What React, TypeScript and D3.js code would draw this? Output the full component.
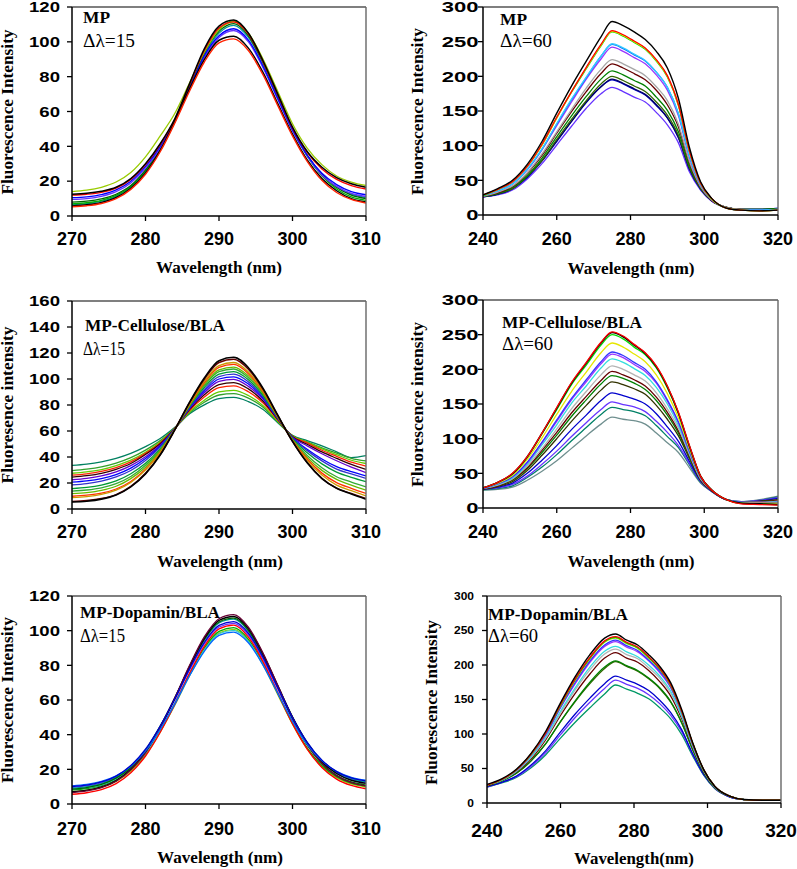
import React from 'react';
import * as d3 from 'd3';

// ---------- wavelength grids ----------
const WL15 = [270, 272, 274, 276, 278, 280, 282, 284, 286, 288, 290, 292, 294, 296, 298, 300, 302, 304, 306, 308, 310];
const WL60 = [240, 244, 248, 252, 256, 260, 264, 268, 272, 275, 278, 281, 284, 287, 290, 293, 296, 299, 302, 306, 310, 315, 320];

const TICKS_X15 = [270, 280, 290, 300, 310];
const TICKS_X60 = [240, 260, 280, 300, 320];
const TICKS_Y120 = [0, 20, 40, 60, 80, 100, 120];
const TICKS_Y160 = [0, 20, 40, 60, 80, 100, 120, 140, 160];
const TICKS_Y300 = [0, 50, 100, 150, 200, 250, 300];

// ---------- MP, Δλ=15 ----------
const mp15_black = [5.8, 6.4, 7.8, 10.6, 15.9, 24.7, 37.7, 54.5, 73, 89.8, 100.9, 103.2, 96.4, 82.3, 64.5, 47, 32.2, 21.5, 14.5, 10, 8];
const mp15_red = [5.3, 5.9, 7.2, 10, 15.3, 24, 36.9, 53.5, 71.8, 88.4, 99.4, 101.7, 95, 81, 63.4, 46, 31.4, 20.5, 13.5, 9.5, 7.5];
const mp15_black2 = [12.5, 13, 14.2, 16.5, 21.5, 30, 41.5, 56, 76, 96, 109, 112.5, 105, 89, 70, 51, 37, 28, 22, 18.5, 16.5];
const mp15_red2 = [12, 12.5, 13.6, 16, 21, 29.5, 41, 55.5, 75.5, 95, 108, 111.5, 104.5, 88.5, 69.5, 50.5, 36.5, 27, 21, 17.5, 15.5];
const mp15_yg = [14, 14.8, 16.5, 19.5, 25, 34, 46, 59, 76.5, 94, 107, 111.5, 105, 90, 71.5, 53, 39, 29.5, 23, 19.5, 17.5];
const mp15_blue = [10.5, 11, 12.3, 15, 20, 28.5, 40, 55, 73.5, 92, 103.5, 107.5, 101, 86, 67.5, 49.5, 35, 24.5, 18, 14, 12.2];
const mp15_purple = [9.5, 10, 11.3, 14, 19, 27.5, 39, 54.5, 73, 91, 102.5, 106.5, 100, 85, 67, 49, 34.5, 23.5, 17, 13, 11.2];
const mp15_dkgreen = [8, 8.5, 9.8, 12.5, 17.5, 26.5, 38.5, 55, 74, 93.5, 106, 110.5, 103.5, 88, 69, 50, 35, 24, 16.5, 12, 10];
const mp15_green = [7, 7.6, 9, 11.8, 17, 26, 38, 54.5, 74, 94, 107, 112, 105, 89, 69.5, 50, 34.5, 23, 15.5, 11, 9];
const mp15_teal = [6.5, 7.1, 8.5, 11.3, 16.5, 25.5, 37.5, 54, 73.5, 92.5, 105, 109.5, 102.5, 87.5, 68.5, 49.5, 34.5, 23.5, 16.5, 12.5, 10.5];

// ---------- MP, Δλ=60 ----------
const mp60_black = [29, 38, 50, 73, 106, 147, 186, 222, 257, 279, 273, 264, 253, 236, 212, 168, 97, 48, 24, 10, 7, 6, 7];
const mp60_red = [29, 37, 48, 70, 102, 141, 178, 213, 246, 266, 260, 251, 241, 224, 201, 159, 92, 46, 24, 10, 7, 6, 7];
const mp60_yellow = [29, 37, 48, 70, 101, 140, 178, 212, 245, 265, 259, 250, 240, 223, 200, 159, 92, 46, 23, 10, 7, 6, 7];
const mp60_green = [28, 37, 48, 70, 101, 140, 177, 211, 244, 264, 258, 249, 239, 222, 199, 158, 92, 46, 23, 10, 7, 6, 7];
const mp60_cyan = [28, 35, 45, 66, 95, 132, 167, 199, 229, 247, 241, 232, 223, 206, 184, 146, 85, 44, 23, 10, 7, 7, 8];
const mp60_blue = [28, 35, 45, 66, 95, 131, 166, 198, 229, 246, 240, 231, 222, 206, 184, 146, 85, 44, 23, 10, 7, 7, 8];
const mp60_violet = [28, 35, 45, 65, 94, 129, 163, 196, 225, 242, 236, 227, 218, 202, 180, 143, 83, 43, 22, 10, 7, 7, 8];
const mp60_gray = [27, 33, 42, 61, 88, 120, 152, 183, 210, 224, 218, 210, 201, 185, 165, 131, 77, 41, 22, 11, 8, 7, 8];
const mp60_brown = [27, 32, 41, 60, 86, 118, 149, 178, 204, 218, 212, 204, 195, 180, 159, 127, 75, 40, 21, 11, 8, 7, 8];
const mp60_green2 = [27, 31, 40, 57, 82, 113, 143, 171, 196, 208, 202, 194, 186, 170, 151, 120, 71, 39, 21, 11, 8, 8, 9];
const mp60_olive = [27, 31, 38, 56, 79, 109, 138, 165, 189, 200, 194, 186, 178, 163, 144, 115, 68, 38, 21, 11, 8, 8, 9];
const mp60_navy = [26, 30, 38, 55, 78, 107, 135, 163, 185, 196, 190, 182, 174, 159, 140, 112, 66, 38, 21, 11, 8, 8, 9];
const mp60_blue2 = [26, 30, 38, 54, 78, 106, 135, 162, 185, 195, 189, 181, 173, 158, 140, 111, 66, 37, 21, 11, 8, 8, 10];
const mp60_purple = [26, 29, 36, 52, 74, 101, 128, 154, 175, 184, 178, 170, 163, 148, 130, 104, 62, 36, 20, 11, 8, 8, 9];

// ---------- MP-Cellulose/BLA, Δλ=15 ----------
const cb15_teal = [33.5, 34.5, 36.3, 39, 42.8, 48, 54.2, 62.8, 73.2, 80.1, 84.9, 85.8, 82.6, 76.5, 66.4, 56.6, 52.6, 48.6, 44, 39.5, 41];
const cb15_green = [29.5, 30.6, 32.4, 35.3, 39.5, 45.3, 52.6, 62.4, 74.1, 82.1, 87.7, 88.8, 85.3, 78.2, 67, 56.3, 51.7, 47, 43, 39, 37];
const cb15_yg = [27.5, 28.6, 30.3, 33.4, 37.6, 43.7, 51.6, 62.1, 74.8, 83.7, 90.1, 91.3, 87.3, 79.4, 67.5, 56.1, 51.3, 46.2, 41.8, 37.5, 35];
const cb15_red = [26, 27.1, 28.9, 31.9, 36.3, 42.8, 50.8, 62.1, 75.8, 86.1, 93.4, 94.7, 90.2, 81.5, 68.4, 55.8, 50.8, 45.2, 40.5, 36, 33];
const cb15_brown = [24.5, 25.6, 27.4, 30.5, 35, 41.9, 50.2, 61.9, 76.6, 87.8, 95.7, 97.2, 92.4, 82.9, 68.9, 55.6, 49.8, 43.9, 39, 34.3, 30.5];
const cb15_purple = [22.5, 23.6, 25.5, 28.6, 33.4, 40.2, 49.3, 61.6, 77.3, 89.4, 98.1, 99.7, 94.3, 84.3, 69.3, 55.2, 48.6, 42.5, 37.1, 32.2, 28];
const cb15_blue = [20.6, 21.6, 23.4, 26.5, 31.4, 38.8, 48.5, 61.8, 77.9, 90.8, 100, 101.7, 96.1, 85.3, 69.7, 54.8, 46, 38.5, 32.6, 28.7, 25.5];
const cb15_blue2 = [18.6, 19.6, 21.5, 24.7, 29.6, 37.3, 47.7, 61.6, 78.4, 92, 101.8, 103.7, 97.8, 86.3, 70, 54.5, 44.9, 37, 30.7, 27, 23.5];
const cb15_green2 = [15.7, 16.6, 18.4, 21.6, 27.1, 35.2, 46.2, 61.4, 79, 93.5, 103.7, 105.7, 99.5, 87.3, 70.2, 54.1, 43.2, 34.7, 28.4, 24.3, 21];
const cb15_green3 = [13.7, 14.6, 16.3, 19.5, 25, 33.7, 45.4, 61.5, 79.6, 94.8, 105.6, 107.7, 101, 88.5, 70.8, 53.5, 41.2, 31.8, 24.8, 20.7, 17];
const cb15_yg2 = [11.8, 12.6, 14.3, 17.5, 23.4, 32.1, 44.6, 61.2, 80, 95.8, 107, 109.2, 102.4, 88.9, 70.9, 53.2, 39.7, 29.7, 22.8, 18.4, 14.5];
const cb15_red2 = [9.8, 10.6, 12.2, 15.4, 21.2, 30.6, 43.6, 61.3, 80.6, 97.1, 108.9, 111.2, 104.1, 90.1, 71.1, 52.7, 38.5, 27.6, 20.3, 15.9, 12];
const cb15_orange = [8.8, 9.5, 11.2, 14.5, 20.4, 29.9, 43.1, 61.2, 81.1, 98.2, 110.3, 112.7, 105.4, 90.8, 71.4, 52.5, 37.4, 26.1, 18.4, 14.1, 10];
const cb15_brown2 = [5.8, 6.5, 8, 11.1, 17.4, 27.4, 41.8, 61.1, 81.8, 99.8, 112.7, 115.2, 107.5, 92, 71.8, 52, 35.8, 23.7, 16, 12, 8];
const cb15_black = [5.4, 6, 7.6, 10.8, 17, 27, 41.5, 61, 82.2, 100.8, 114.1, 116.7, 108.7, 92.8, 72.2, 52, 35.5, 23.4, 15.9, 11.5, 7.5];

// ---------- MP-Cellulose/BLA, Δλ=60 ----------
const cb60_black = [29, 37, 49.5, 74, 108, 144, 180, 209, 238, 253, 247, 235, 223, 204, 175, 137, 89, 46, 26, 12, 7, 6, 5];
const cb60_red = [29, 37, 50, 74, 108, 145, 181, 210, 239, 254, 248, 236, 224, 205, 176, 138, 90, 46, 26, 12, 6, 5, 4];
const cb60_green = [29, 37, 49, 73, 107, 142, 178, 206, 235, 250, 244, 232, 221, 202, 173, 136, 88, 46, 26, 12, 7, 6, 5];
const cb60_yellow = [29, 36, 47, 70, 101, 135, 168, 196, 224, 238, 232, 222, 211, 192, 165, 130, 85, 45, 26, 12, 7, 7, 7];
const cb60_blue = [28, 35, 45, 66, 95, 127, 158, 185, 211, 225, 220, 210, 200, 182, 156, 124, 82, 44, 26, 12, 8, 7, 8];
const cb60_violet = [28, 35, 45, 65, 94, 125, 156, 182, 208, 222, 217, 207, 197, 180, 154, 123, 81, 44, 26, 12, 8, 8, 8];
const cb60_cyan = [28, 34, 43, 63, 91, 120, 151, 176, 202, 215, 210, 201, 191, 174, 150, 119, 79, 43, 26, 12, 8, 8, 9];
const cb60_gray = [28, 33, 42, 61, 86, 114, 143, 168, 192, 205, 200, 192, 183, 166, 143, 115, 77, 42, 26, 12, 8, 8, 10];
const cb60_brown = [28, 32, 41, 58, 83, 109, 137, 161, 184, 197, 192, 185, 176, 160, 138, 111, 75, 41, 25, 12, 8, 9, 11];
const cb60_green2 = [28, 32, 40, 57, 80, 105, 132, 156, 179, 191, 187, 180, 171, 155, 134, 108, 73, 41, 25, 12, 8, 9, 11];
const cb60_olive = [27, 31, 38, 54, 76, 100, 125, 148, 170, 182, 178, 172, 164, 148, 128, 104, 71, 40, 25, 12, 8, 10, 12];
const cb60_blue2 = [27, 30, 36, 50, 69, 90, 113, 134, 155, 166, 162, 157, 150, 136, 117, 96, 67, 39, 25, 12, 8, 10, 14];
const cb60_purple = [27, 29, 34, 46, 63, 82, 103, 123, 142, 153, 149, 146, 139, 125, 109, 90, 64, 38, 24, 12, 9, 11, 15];
const cb60_teal = [26, 28, 32, 44, 59, 77, 97, 116, 135, 145, 142, 139, 133, 119, 103, 87, 62, 37, 24, 12, 9, 11, 16];
const cb60_slate = [26, 27, 30, 40, 53, 68, 86, 104, 121, 131, 128, 126, 121, 108, 94, 80, 58, 36, 24, 12, 9, 12, 17];

// ---------- MP-Dopamin/BLA, Δλ=15 ----------
const md15_brown = [6.6, 7.6, 9.4, 13.1, 19.7, 29.8, 44.3, 61.4, 80, 96.4, 106.9, 109.2, 102, 87, 68.3, 49.7, 34.3, 23.3, 16.2, 12.3, 10.4];
const md15_black = [7.1, 8, 9.9, 13.5, 20, 30, 44.2, 61.1, 79.4, 95.5, 105.9, 108.2, 101.2, 86.5, 68.3, 50.2, 35.2, 24.4, 17.6, 13.7, 11.9];
const md15_dkgreen = [8.6, 9.5, 11.3, 14.9, 21.1, 30.9, 44.8, 61.2, 79.1, 94.9, 105, 107.2, 100.2, 85.5, 67.3, 49.2, 34.2, 23.4, 16.6, 12.7, 10.9];
const md15_teal = [9.1, 10, 11.8, 15.3, 21.5, 31.2, 45, 61.2, 78.9, 94.5, 104.5, 106.7, 99.8, 85.6, 67.8, 50.2, 35.6, 25.1, 18.4, 14.7, 12.8];
const md15_blue = [10.1, 10.9, 12.7, 16.1, 22.2, 31.6, 45, 60.9, 78.1, 93.3, 103.1, 105.2, 98.5, 84.6, 67.2, 49.9, 35.6, 25.3, 18.7, 15.1, 13.3];
const md15_purple = [9.6, 10.4, 12.2, 15.6, 21.6, 31, 44.3, 60.1, 77.3, 92.4, 102.1, 104.2, 97.5, 83.6, 66.2, 48.9, 34.6, 24.3, 17.7, 14.1, 12.3];
const md15_red = [5.6, 6.5, 8.3, 11.8, 18, 27.7, 41.4, 57.7, 75.4, 91, 101, 103.2, 96.3, 82, 64.1, 46.4, 31.7, 21.1, 14.4, 10.7, 8.8];
const md15_green = [8.1, 8.9, 10.6, 14, 20, 29.2, 42.5, 58.1, 75.1, 90, 99.6, 101.7, 95, 81.2, 63.9, 46.7, 32.4, 22.2, 15.7, 12.1, 10.3];
const md15_yg = [7.1, 7.9, 9.6, 13, 19, 28.2, 41.5, 57.1, 74.1, 89, 98.6, 100.7, 94.1, 80.3, 63.1, 46, 31.8, 21.6, 15.2, 11.6, 9.8];
const md15_cyan = [8.6, 9.4, 11.1, 14.4, 20.2, 29.3, 42.2, 57.5, 74.1, 88.8, 98.2, 100.2, 93.8, 80.6, 64, 47.5, 33.9, 24.1, 17.9, 14.4, 12.7];
const md15_blue2 = [10.5, 11.3, 13, 16.2, 21.8, 30.6, 43.1, 57.9, 74, 88.1, 97.3, 99.2, 93, 80, 63.8, 47.7, 34.4, 24.9, 18.8, 15.4, 13.7];

// ---------- MP-Dopamin/BLA, Δλ=60 ----------
const md60_black = [27, 35, 49, 72, 104, 145, 183, 215, 239, 245, 236, 229, 215, 198, 174, 135, 87, 48, 24, 10, 5, 4, 4];
const md60_red = [26, 34, 48, 71, 102, 143, 180, 211, 235, 241, 233, 226, 212, 195, 171, 133, 86, 48, 24, 10, 5, 4, 4];
const md60_green = [26, 34, 48, 71, 102, 142, 179, 210, 234, 240, 232, 225, 211, 194, 171, 133, 86, 48, 24, 10, 5, 4, 4];
const md60_yg = [26, 34, 48, 70, 102, 141, 178, 209, 233, 239, 231, 224, 210, 194, 170, 132, 86, 47, 24, 10, 5, 4, 4];
const md60_blue = [26, 34, 48, 70, 100, 139, 175, 206, 229, 236, 228, 221, 207, 191, 168, 131, 85, 47, 24, 10, 5, 4, 4];
const md60_violet = [26, 34, 47, 69, 99, 138, 173, 204, 227, 234, 226, 219, 206, 189, 167, 130, 84, 47, 24, 10, 5, 4, 4];
const md60_cyan = [26, 33, 46, 67, 96, 133, 167, 197, 220, 227, 219, 212, 200, 184, 162, 126, 82, 46, 23, 10, 5, 4, 4];
const md60_gray = [26, 33, 46, 66, 94, 130, 164, 193, 216, 223, 215, 209, 196, 181, 159, 125, 82, 46, 23, 10, 5, 4, 4];
const md60_brown = [25, 33, 45, 64, 92, 127, 159, 187, 210, 218, 210, 204, 192, 176, 155, 122, 80, 45, 23, 10, 5, 4, 4];
const md60_green2 = [25, 32, 43, 61, 86, 118, 148, 175, 197, 206, 199, 192, 181, 167, 147, 116, 77, 44, 22, 10, 5, 4, 4];
const md60_olive = [25, 32, 43, 61, 86, 118, 147, 173, 195, 205, 198, 191, 180, 166, 146, 116, 77, 44, 22, 10, 5, 4, 4];
const md60_blue2 = [24, 30, 39, 55, 76, 103, 129, 152, 173, 184, 178, 172, 163, 149, 131, 106, 71, 41, 22, 9, 5, 4, 4];
const md60_purple = [23, 30, 38, 53, 73, 99, 124, 146, 166, 178, 172, 166, 157, 144, 127, 103, 70, 41, 21, 9, 5, 4, 4];
const md60_teal = [23, 29, 37, 51, 70, 94, 117, 138, 158, 171, 165, 159, 151, 138, 122, 99, 68, 40, 21, 9, 5, 4, 4];

type Series = { values: number[]; color: string; w?: number };
type PanelCfg = {
  key: string;
  wl: number[];
  left: number; right: number; top: number; bottom: number;
  xDomain: [number, number]; xTicks: number[];
  yDomain: [number, number]; yTicks: number[];
  yLab: { size: number; sx: number; gap: number };
  xLab: { size: number; base: number };
  yTitle: { text: string; x: number; y: number; len: number };
  xTitle: { text: string; x: number; y: number; len: number };
  ann1: { text: string; x: number; y: number; len: number };
  ann2: { text: string; x: number; y: number; len: number };
  series: Series[];
};

const PANELS: PanelCfg[] = [
  {
    key: 'p1', wl: WL15, left: 72, right: 366, top: 7, bottom: 216,
    xDomain: [270, 310], xTicks: TICKS_X15, yDomain: [0, 120], yTicks: TICKS_Y120,
    yLab: { size: 14.5, sx: 1.28, gap: 12 }, xLab: { size: 18, base: 245 },
    yTitle: { text: 'Fluorescence Intensity', x: 13, y: 112, len: 165 },
    xTitle: { text: 'Wavelength (nm)', x: 219, y: 273, len: 126 },
    ann1: { text: 'MP', x: 83, y: 23, len: 27 },
    ann2: { text: 'Δλ=15', x: 83, y: 47, len: 52 },
    series: [
      { values: mp15_teal, color: '#009999' },
      { values: mp15_green, color: '#00b000' },
      { values: mp15_dkgreen, color: '#006600' },
      { values: mp15_purple, color: '#6633ff' },
      { values: mp15_blue, color: '#0000ff' },
      { values: mp15_yg, color: '#99cc00' },
      { values: mp15_red2, color: '#ff0000' },
      { values: mp15_black2, color: '#000000', w: 1.5 },
      { values: mp15_black, color: '#000000', w: 1.5 },
      { values: mp15_red, color: '#ff2200', w: 1.4 },
    ],
  },
  {
    key: 'p2', wl: WL60, left: 483, right: 778, top: 7, bottom: 215,
    xDomain: [240, 320], xTicks: TICKS_X60, yDomain: [0, 300], yTicks: TICKS_Y300,
    yLab: { size: 14.5, sx: 1.52, gap: 4.5 }, xLab: { size: 18, base: 245 },
    yTitle: { text: 'Fluorescence Intensity', x: 423, y: 111.5, len: 167 },
    xTitle: { text: 'Wavelength (nm)', x: 631, y: 274, len: 127 },
    ann1: { text: 'MP', x: 500, y: 25, len: 27 },
    ann2: { text: 'Δλ=60', x: 500, y: 47, len: 52 },
    series: [
      { values: mp60_purple, color: '#6633ff' },
      { values: mp60_blue2, color: '#0000cc' },
      { values: mp60_navy, color: '#000066' },
      { values: mp60_olive, color: '#336600' },
      { values: mp60_green2, color: '#008000' },
      { values: mp60_brown, color: '#660000' },
      { values: mp60_gray, color: '#a6a6a6' },
      { values: mp60_violet, color: '#9933ff' },
      { values: mp60_blue, color: '#0066ff' },
      { values: mp60_cyan, color: '#33ccff' },
      { values: mp60_green, color: '#00dd00' },
      { values: mp60_yellow, color: '#e6e600' },
      { values: mp60_red, color: '#ff0000' },
      { values: mp60_black, color: '#000000', w: 1.4 },
    ],
  },
  {
    key: 'p3', wl: WL15, left: 72, right: 366, top: 301, bottom: 509,
    xDomain: [270, 310], xTicks: TICKS_X15, yDomain: [0, 160], yTicks: TICKS_Y160,
    yLab: { size: 14.5, sx: 1.28, gap: 12 }, xLab: { size: 18, base: 538 },
    yTitle: { text: 'Fluoresence intensity', x: 13, y: 405, len: 157 },
    xTitle: { text: 'Wavelength (nm)', x: 220, y: 567, len: 126 },
    ann1: { text: 'MP-Cellulose/BLA', x: 85, y: 331, len: 140 },
    ann2: { text: 'Δλ=15', x: 83, y: 355, len: 42 },
    series: [
      { values: cb15_teal, color: '#008060' },
      { values: cb15_green, color: '#33a02c' },
      { values: cb15_yg, color: '#66cc00' },
      { values: cb15_red, color: '#ff2200' },
      { values: cb15_brown, color: '#330000' },
      { values: cb15_purple, color: '#6600cc' },
      { values: cb15_blue, color: '#0000ff' },
      { values: cb15_blue2, color: '#3333cc' },
      { values: cb15_green2, color: '#009933' },
      { values: cb15_green3, color: '#33aa33' },
      { values: cb15_yg2, color: '#66bb00' },
      { values: cb15_red2, color: '#ff3300' },
      { values: cb15_orange, color: '#cc9900' },
      { values: cb15_brown2, color: '#660000', w: 1.5 },
      { values: cb15_black, color: '#000000', w: 1.6 },
    ],
  },
  {
    key: 'p4', wl: WL60, left: 483, right: 778, top: 300, bottom: 508,
    xDomain: [240, 320], xTicks: TICKS_X60, yDomain: [0, 300], yTicks: TICKS_Y300,
    yLab: { size: 14.5, sx: 1.52, gap: 4.5 }, xLab: { size: 18, base: 538 },
    yTitle: { text: 'Fluorescence intensity', x: 423, y: 404.5, len: 165 },
    xTitle: { text: 'Wavelength (nm)', x: 631, y: 567, len: 127 },
    ann1: { text: 'MP-Cellulose/BLA', x: 502, y: 328, len: 140 },
    ann2: { text: 'Δλ=60', x: 502, y: 350, len: 51 },
    series: [
      { values: cb60_slate, color: '#6f8f8f' },
      { values: cb60_teal, color: '#008066' },
      { values: cb60_purple, color: '#6633ff' },
      { values: cb60_blue2, color: '#0000cc' },
      { values: cb60_olive, color: '#333300' },
      { values: cb60_green2, color: '#008000' },
      { values: cb60_brown, color: '#660000' },
      { values: cb60_gray, color: '#b3b3b3' },
      { values: cb60_cyan, color: '#33dddd' },
      { values: cb60_violet, color: '#9933ff' },
      { values: cb60_blue, color: '#3333ff' },
      { values: cb60_yellow, color: '#e6e600' },
      { values: cb60_green, color: '#00dd00' },
      { values: cb60_black, color: '#000000', w: 1.5 },
      { values: cb60_red, color: '#ff0000', w: 1.3 },
    ],
  },
  {
    key: 'p5', wl: WL15, left: 72, right: 366, top: 596, bottom: 804,
    xDomain: [270, 310], xTicks: TICKS_X15, yDomain: [0, 120], yTicks: TICKS_Y120,
    yLab: { size: 14.5, sx: 1.28, gap: 12 }, xLab: { size: 18, base: 835 },
    yTitle: { text: 'Fluorescence Intensity', x: 13, y: 700, len: 166 },
    xTitle: { text: 'Wavelength (nm)', x: 220, y: 863, len: 126 },
    ann1: { text: 'MP-Dopamin/BLA', x: 80, y: 618, len: 140 },
    ann2: { text: 'Δλ=15', x: 80, y: 642, len: 45 },
    series: [
      { values: md15_yg, color: '#99cc00' },
      { values: md15_green, color: '#00aa00' },
      { values: md15_cyan, color: '#33cccc' },
      { values: md15_purple, color: '#6633ff' },
      { values: md15_teal, color: '#009999' },
      { values: md15_dkgreen, color: '#006600' },
      { values: md15_red, color: '#ff0000', w: 1.4 },
      { values: md15_black, color: '#000000', w: 1.4 },
      { values: md15_brown, color: '#660033' },
      { values: md15_blue2, color: '#0066ff' },
      { values: md15_blue, color: '#0000cc' },
    ],
  },
  {
    key: 'p6', wl: WL60, left: 487, right: 781, top: 596, bottom: 803,
    xDomain: [240, 320], xTicks: TICKS_X60, yDomain: [0, 300], yTicks: TICKS_Y300,
    yLab: { size: 10, sx: 1.2, gap: 13 }, xLab: { size: 19, base: 837 },
    yTitle: { text: 'Fluorescence Intensity', x: 437, y: 702.5, len: 165 },
    xTitle: { text: 'Wavelength(nm)', x: 634, y: 864, len: 120 },
    ann1: { text: 'MP-Dopamin/BLA', x: 488, y: 620, len: 140 },
    ann2: { text: 'Δλ=60', x: 488, y: 642, len: 50 },
    series: [
      { values: md60_teal, color: '#009966' },
      { values: md60_purple, color: '#6633ff' },
      { values: md60_blue2, color: '#0000cc' },
      { values: md60_olive, color: '#336600' },
      { values: md60_green2, color: '#008000' },
      { values: md60_brown, color: '#660000' },
      { values: md60_gray, color: '#b3b3b3' },
      { values: md60_cyan, color: '#33dddd' },
      { values: md60_violet, color: '#9933ff' },
      { values: md60_blue, color: '#3333ff' },
      { values: md60_yg, color: '#99ee00' },
      { values: md60_green, color: '#00cc00' },
      { values: md60_red, color: '#ff0000' },
      { values: md60_black, color: '#000000', w: 1.4 },
    ],
  },
];

const SANS = "'Liberation Sans', Arial, sans-serif";
const SERIF = "'Liberation Serif', 'Times New Roman', serif";

function Panel({ cfg }: { cfg: PanelCfg }) {
  const x = d3.scaleLinear().domain(cfg.xDomain).range([cfg.left, cfg.right]);
  const y = d3.scaleLinear().domain(cfg.yDomain).range([cfg.bottom, cfg.top]);
  const line = d3
    .line<number>()
    .x((_, i) => x(cfg.wl[i]))
    .y((d) => y(d))
    .curve(d3.curveMonotoneX);
  const clipId = `clip-${cfg.key}`;
  return (
    <g>
      <defs>
        <clipPath id={clipId}>
          <rect x={cfg.left} y={cfg.top} width={cfg.right - cfg.left} height={cfg.bottom - cfg.top} />
        </clipPath>
      </defs>
      <g clipPath={`url(#${clipId})`}>
        {cfg.series.map((s, i) => (
          <path key={i} d={line(s.values) || ''} fill="none" stroke={s.color} strokeWidth={s.w ?? 1.3} strokeLinejoin="round" />
        ))}
      </g>
      <line x1={cfg.left} x2={cfg.right} y1={cfg.top} y2={cfg.top} stroke="#555" strokeWidth={1.6} />
      <line x1={cfg.right} x2={cfg.right} y1={cfg.top} y2={cfg.bottom} stroke="#666" strokeWidth={1.4} />
      <line x1={cfg.left} x2={cfg.left} y1={cfg.top} y2={cfg.bottom} stroke="#000" strokeWidth={1.5} />
      <line x1={cfg.left} x2={cfg.right} y1={cfg.bottom} y2={cfg.bottom} stroke="#000" strokeWidth={1.5} />
      {cfg.xTicks.map((t) => (
        <g key={`xt${t}`}>
          <line x1={x(t)} x2={x(t)} y1={cfg.bottom} y2={cfg.bottom + 5} stroke="#000" strokeWidth={1.3} />
          <text x={x(t)} y={cfg.xLab.base} textAnchor="middle" fontFamily={SANS} fontWeight="bold" fontSize={cfg.xLab.size} fill="#000">
            {t}
          </text>
        </g>
      ))}
      {cfg.yTicks.map((t) => (
        <g key={`yt${t}`}>
          <line x1={cfg.left - 5} x2={cfg.left} y1={y(t)} y2={y(t)} stroke="#000" strokeWidth={1.3} />
          <text
            transform={`translate(${cfg.left - cfg.yLab.gap},${y(t)}) scale(${cfg.yLab.sx},1)`}
            textAnchor="end"
            dy="0.36em"
            fontFamily={SANS}
            fontWeight="bold"
            fontSize={cfg.yLab.size}
            fill="#000"
          >
            {t}
          </text>
        </g>
      ))}
      <text
        transform={`translate(${cfg.yTitle.x},${cfg.yTitle.y}) rotate(-90)`}
        textAnchor="middle"
        fontFamily={SERIF}
        fontWeight="bold"
        fontSize={16}
        textLength={cfg.yTitle.len}
        lengthAdjust="spacingAndGlyphs"
        fill="#000"
      >
        {cfg.yTitle.text}
      </text>
      <text
        x={cfg.xTitle.x}
        y={cfg.xTitle.y}
        textAnchor="middle"
        fontFamily={SERIF}
        fontWeight="bold"
        fontSize={17}
        textLength={cfg.xTitle.len}
        lengthAdjust="spacingAndGlyphs"
        fill="#000"
      >
        {cfg.xTitle.text}
      </text>
      <text
        x={cfg.ann1.x}
        y={cfg.ann1.y}
        fontFamily={SERIF}
        fontWeight="bold"
        fontSize={17}
        textLength={cfg.ann1.len}
        lengthAdjust="spacingAndGlyphs"
        fill="#000"
      >
        {cfg.ann1.text}
      </text>
      <text
        x={cfg.ann2.x}
        y={cfg.ann2.y}
        fontFamily={SERIF}
        fontSize={18}
        textLength={cfg.ann2.len}
        lengthAdjust="spacingAndGlyphs"
        fill="#000"
      >
        {cfg.ann2.text}
      </text>
    </g>
  );
}

export default function App() {
  return (
    <svg
      width={797}
      height={869}
      viewBox="0 0 797 869"
      style={{ position: 'absolute', left: 0, top: 0, background: '#fff' }}
    >
      <rect x={0} y={0} width={797} height={869} fill="#fff" />
      {PANELS.map((p) => (
        <Panel key={p.key} cfg={p} />
      ))}
    </svg>
  );
}
